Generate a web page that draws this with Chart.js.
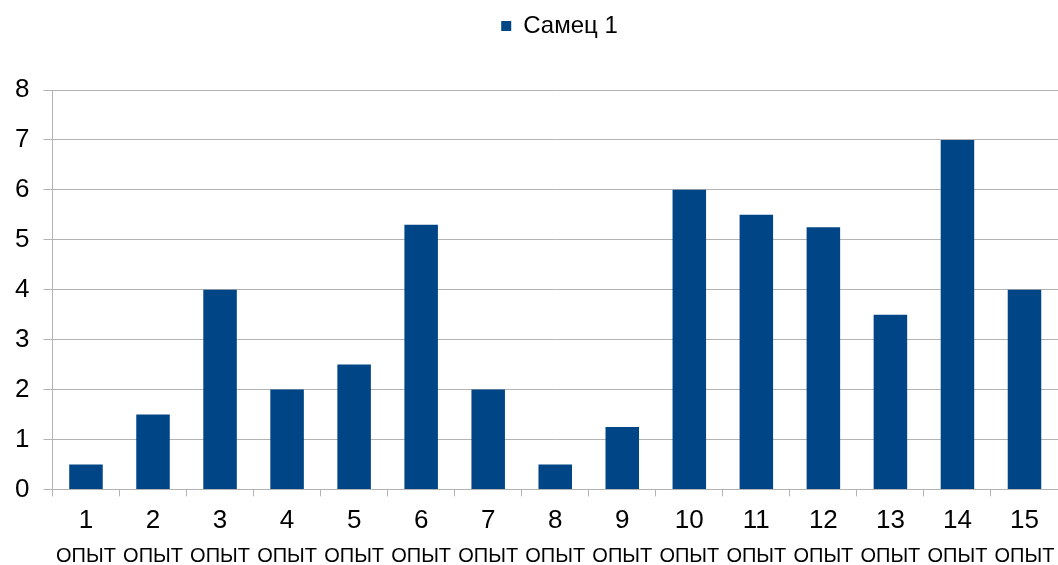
<!DOCTYPE html>
<html>
<head>
<meta charset="utf-8">
<script src="https://cdn.jsdelivr.net/npm/chart.js@4"></script>
<style>
  html, body { margin: 0; padding: 0; background: #fff; }
  #wrap { width: 1058px; height: 565px; position: relative; }
</style>
</head>
<body>
<div id="wrap"><canvas id="chart"></canvas></div>
<script>
// Trial numbers along the x axis
const trials = ['1', '2', '3', '4', '5', '6', '7', '8', '9', '10', '11', '12', '13', '14', '15'];
// Second line under each trial number
const trialWord = 'ОПЫТ';
// Series: male no. 1
const seriesName = 'Самец 1';
const male1 = [0.5, 1.5, 4, 2, 2.5, 5.3, 2, 0.5, 1.25, 6, 5.5, 5.25, 3.5, 7, 4];
// Value axis
const yMin = 0;
const yMax = 8;
const yStep = 1;

const FONT = "'Liberation Sans', Arial, sans-serif";
const GRID = '#b3b3b3';
const BAR = '#004586';

// Leaves room between the legend and the plot area and nudges the legend item
const legendGap = {
  id: 'legendGap',
  beforeLayout(chart) {
    const lg = chart.legend;
    if (lg && !lg._gapPatched) {
      const fit = lg.fit;
      lg.fit = function () {
        fit.call(this);
        this.height += 42;
      };
      lg._gapPatched = true;
    }
  },
  afterLayout(chart) {
    const lg = chart.legend;
    if (lg) {
      lg.left += 60;
    }
  }
};

new Chart(document.getElementById('chart'), {
  type: 'bar',
  data: {
    labels: trials,
    datasets: [{
      label: seriesName,
      data: male1,
      backgroundColor: BAR,
      borderWidth: 0,
      categoryPercentage: 1,
      barPercentage: 0.5,
      xAxisID: 'x'
    }]
  },
  options: {
    responsive: true,
    maintainAspectRatio: false,
    animation: false,
    layout: { padding: { top: 0, left: 1, right: 0, bottom: -3 } },
    plugins: {
      tooltip: { enabled: false },
      legend: {
        position: 'top',
        align: 'center',
        labels: {
          boxWidth: 10,
          boxHeight: 10,
          padding: 14,
          color: '#000',
          font: { family: FONT, size: 24 }
        }
      }
    },
    scales: {
      x: {
        type: 'category',
        position: 'bottom',
        weight: 0,
        offset: true,
        // band for the trial numbers; the word row sits right under it
        afterFit(scale) { scale.height = 54.6; },
        grid: {
          offset: true,
          drawOnChartArea: false,
          drawTicks: true,
          tickLength: 7,
          color: GRID,
          lineWidth: 1
        },
        border: { display: true, color: GRID, width: 1 },
        ticks: {
          color: '#000',
          padding: 9,
          maxRotation: 0,
          autoSkip: false,
          font: { family: FONT, size: 26 }
        }
      },
      x2: {
        type: 'category',
        position: 'bottom',
        weight: 1,
        offset: true,
        labels: trials,
        grid: { display: false, drawTicks: false },
        border: { display: false },
        ticks: {
          color: '#000',
          padding: 0,
          maxRotation: 0,
          autoSkip: false,
          font: { family: FONT, size: 20 },
          callback: () => trialWord
        }
      },
      y: {
        min: yMin,
        max: yMax,
        grid: {
          color: GRID,
          lineWidth: 1,
          drawTicks: true,
          tickLength: 9
        },
        border: { display: true, color: GRID, width: 1 },
        ticks: {
          stepSize: yStep,
          color: '#000',
          padding: 14,
          font: { family: FONT, size: 26 }
        }
      }
    }
  },
  plugins: [legendGap]
});
</script>
</body>
</html>
